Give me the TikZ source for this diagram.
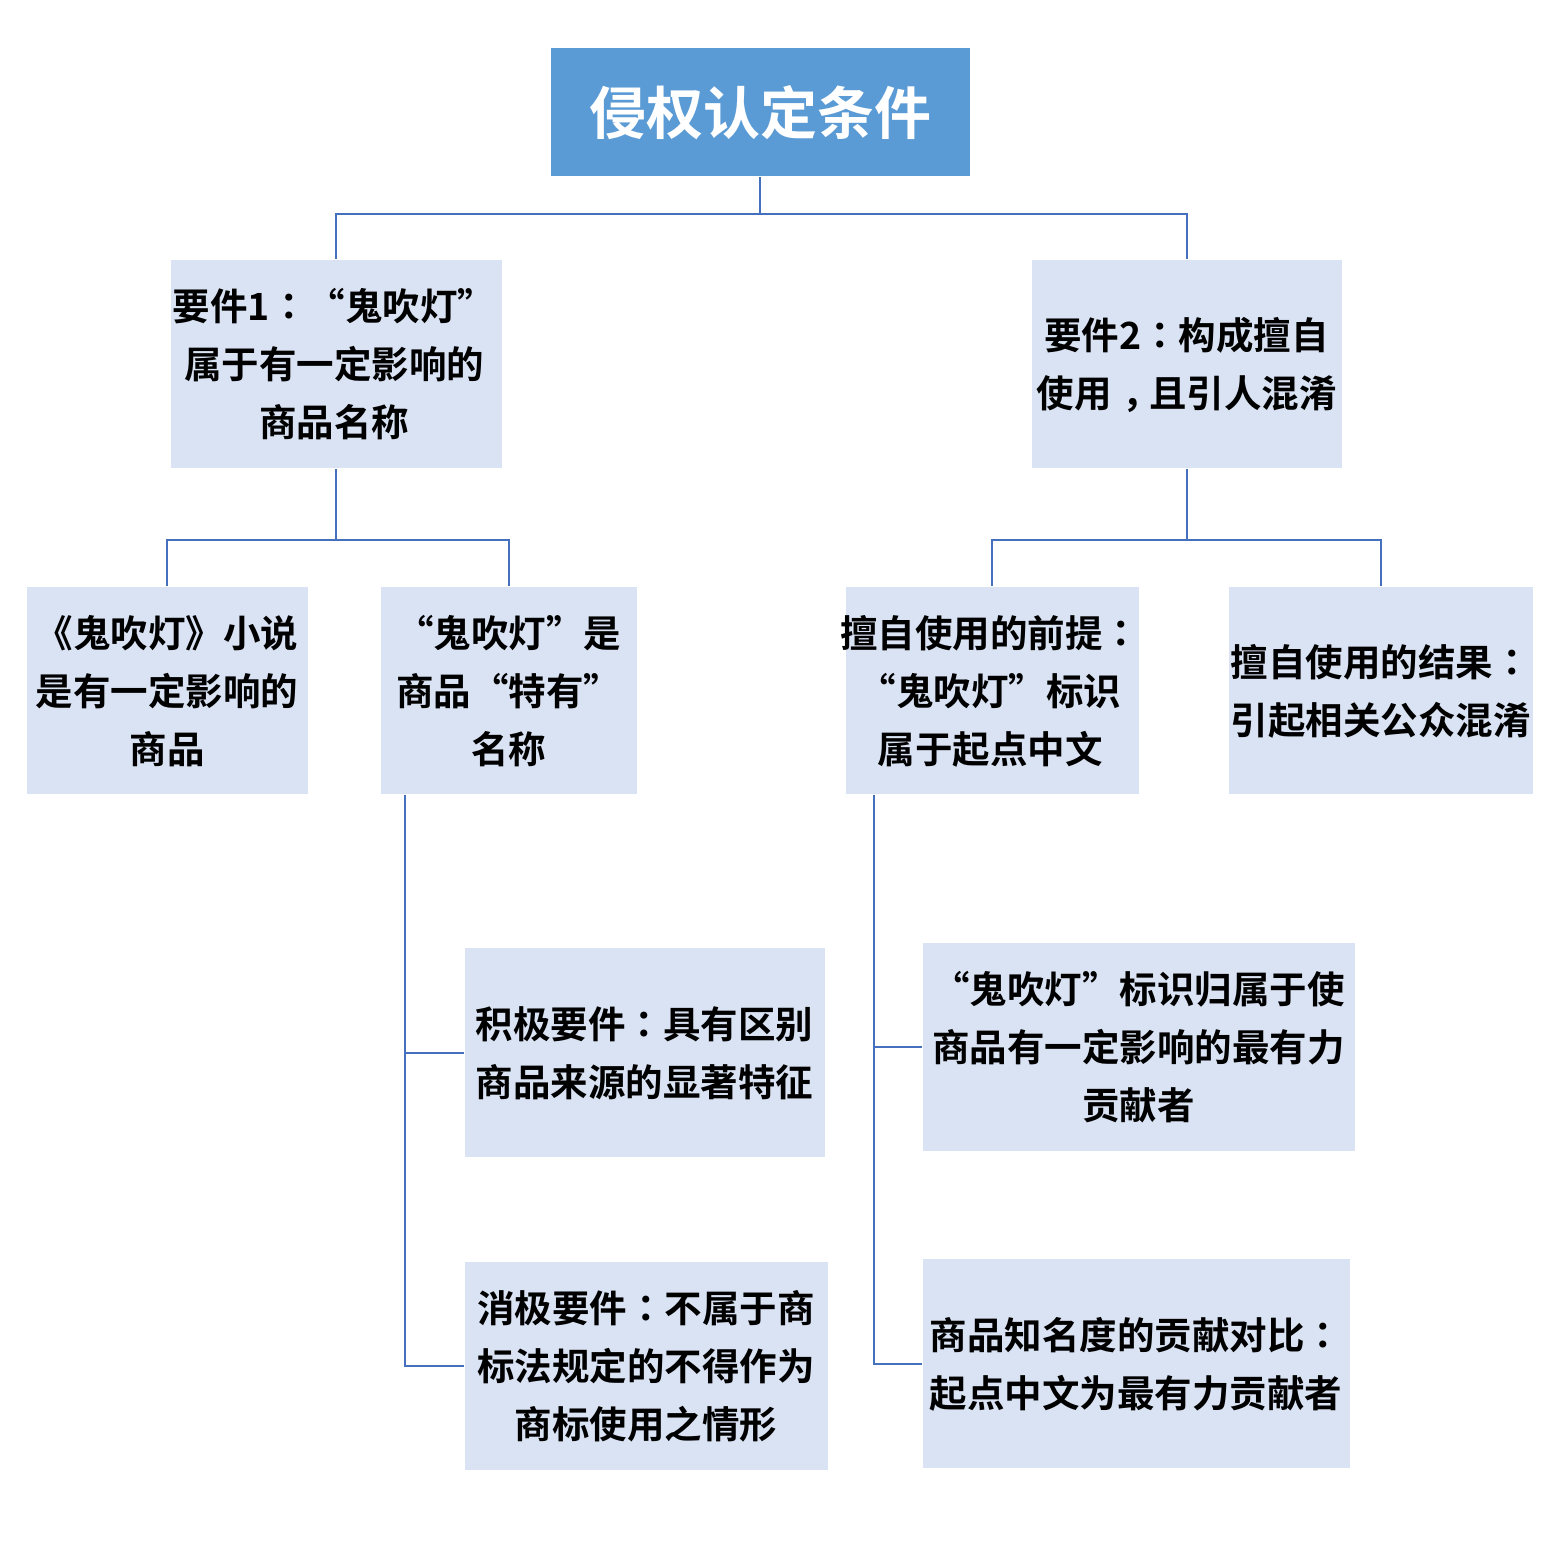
\documentclass[tikz,border=0pt]{standalone}
\usepackage{fontspec}
\setmainfont{Noto Sans CJK SC Bold}
\newfontfamily\cjkb{Noto Sans CJK SC Bold}
\newfontfamily\cjktc{Noto Sans CJK TC Bold}
\newcommand{\cc}{{\cjktc ：}}
\newcommand{\cm}{{\kern 11pt，\kern -11pt}}
\usetikzlibrary{calc}
\definecolor{titlefill}{HTML}{5B9BD5}
\definecolor{boxfill}{HTML}{DAE3F3}
\definecolor{linkblue}{HTML}{4470BE}
\tikzset{
  x=1pt,y=1pt,
  titlebox/.style={fill=titlefill,draw=white,line width=1pt,inner sep=0pt,align=center,text=white,font=\cjkb\fontsize{57}{60}\selectfont},
  infobox/.style={fill=boxfill,draw=white,line width=1pt,inner sep=0pt},
  infotext/.style={inner sep=0pt,align=center,text=black,font=\cjkb\fontsize{37.5}{58}\selectfont},
  link/.style={draw=linkblue,line width=2pt}
}
\begin{document}
\begin{tikzpicture}
\useasboundingbox (0,0) rectangle (1564,1541);
\fill[white] (0,0) rectangle (1564,1541);
% boxes (y = 1541 - pixel y)
\node[titlebox,minimum width=420,minimum height=129] (title) at (760,1428.5) {侵权认定条件};
\node[infobox,minimum width=332,minimum height=209] (L1) at (336,1176.5) {};
\node[infobox,minimum width=311,minimum height=209] (R1) at (1186.5,1176.5) {};
\node[infobox,minimum width=282,minimum height=208] (L2a) at (167,850) {};
\node[infobox,minimum width=257,minimum height=208] (L2b) at (508.5,850) {};
\node[infobox,minimum width=294,minimum height=208] (R2a) at (992,850) {};
\node[infobox,minimum width=305,minimum height=208] (R2b) at (1380.5,850) {};
\node[infobox,minimum width=361,minimum height=210] (L3a) at (644.5,488) {};
\node[infobox,minimum width=364,minimum height=209] (L3b) at (646,174.5) {};
\node[infobox,minimum width=433,minimum height=209] (R3a) at (1138.5,493.5) {};
\node[infobox,minimum width=428,minimum height=210] (R3b) at (1136,177) {};
% texts
\node[infotext] (L1t) at ([xshift=-2]L1.center) {要件1\cc{}“鬼吹灯”\\属于有一定影响的\\商品名称};
\node[infotext] (R1t) at (R1.center) {要件2\cc{}构成擅自\\使用\cm{}且引人混淆};
\node[infotext] (L2at) at (L2a.center) {《鬼吹灯》小说\\是有一定影响的\\商品};
\node[infotext] (L2bt) at (L2b.center) {“鬼吹灯”是\\商品“特有”\\名称};
\node[infotext] (R2at) at ([xshift=-2]R2a.center) {擅自使用的前提\cc{}\\“鬼吹灯”标识\\属于起点中文};
\node[infotext] (R2bt) at (R2b.center) {擅自使用的结果\cc{}\\引起相关公众混淆};
\node[infotext] (L3at) at (L3a.center) {积极要件\cc{}具有区别\\商品来源的显著特征};
\node[infotext] (L3bt) at (L3b.center) {消极要件\cc{}不属于商\\标法规定的不得作为\\商标使用之情形};
\node[infotext] (R3at) at (R3a.center) {“鬼吹灯”标识归属于使\\商品有一定影响的最有力\\贡献者};
\node[infotext] (R3bt) at (R3b.center) {商品知名度的贡献对比\cc{}\\起点中文为最有力贡献者};
% connectors
\draw[link] (title.south) -- ++(0,-37) coordinate (tj);
\draw[link] (tj) -| (L1.north);
\draw[link] (tj) -| (R1.north);
\draw[link] (L1.south) -- ++(0,-71) coordinate (lj);
\draw[link] (lj) -| (L2a.north);
\draw[link] (lj) -| (L2b.north);
\draw[link] (R1.south) -- ++(0,-71) coordinate (rj);
\draw[link] (rj) -| (R2a.north);
\draw[link] (rj) -| (R2b.north);
\coordinate (lt) at ($(L2b.south west)+(25,0)$);
\draw[link] (lt) |- (L3b.west);
\draw[link] (lt |- L3a.west) -- (L3a.west);
\coordinate (rt) at ($(R2a.south west)+(29,0)$);
\draw[link] (rt) |- (R3b.west);
\draw[link] (rt |- R3a.west) -- (R3a.west);
\end{tikzpicture}
\end{document}
